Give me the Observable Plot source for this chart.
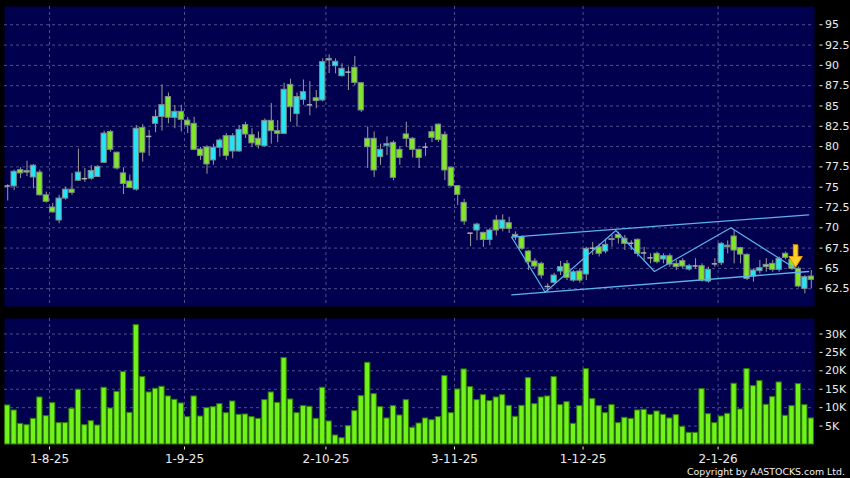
<!DOCTYPE html>
<html><head><meta charset="utf-8">
<script src="https://cdn.jsdelivr.net/npm/d3@7"></script>
<script src="https://cdn.jsdelivr.net/npm/@observablehq/plot@0.6"></script>
<style>
html,body{margin:0;padding:0;background:#000;}
#chart{position:relative;width:850px;height:478px;background:#000;overflow:hidden;font-family:"DejaVu Sans",sans-serif;}
#price{position:absolute;left:0;top:0;}
#vol{position:absolute;left:0;top:312px;}
#copy{position:absolute;left:687px;top:466px;color:#f2f2f2;font-size:9.4px;line-height:11px;white-space:nowrap;font-family:"DejaVu Sans",sans-serif;}
</style></head>
<body>
<div id="chart"><div id="price"></div><div id="vol"></div><div id="copy">Copyright by AASTOCKS.com Ltd.</div></div>
<script>
// ---- data (trading days 23 Jul 2025 .. 22 Jan 2026) ----
const opens = [75.15,75.1,77.1,77.0,76.2,76.8,74.0,72.5,70.9,73.6,
74.7,75.8,76.05,76.05,76.25,78.0,81.8,79.25,76.7,75.7,
74.7,82.3,81.25,82.8,83.65,86.1,83.54,84.28,83.2,82.8,
79.64,79.9,78.3,79.85,81.28,79.4,79.4,82.64,81.4,80.96,
80.05,83.17,81.9,81.57,87.6,84.0,85.76,85.14,85.96,85.68,
90.6,89.9,88.67,89.17,89.7,87.8,80.96,80.96,78.7,80.1,
80.46,79.6,81.5,80.96,79.6,79.93,81.77,82.7,81.45,77.4,
75.13,73.07,69.34,69.67,69.38,68.5,70.9,69.87,70.57,68.85,
68.85,67.08,65.85,65.56,62.77,63.22,64.62,65.56,63.5,64.62,
64.25,67.49,67.6,67.08,68.5,69.13,68.64,68.1,68.52,66.9,
66.3,66.8,66.1,66.5,65.56,65.9,64.86,65.3,65.27,63.38,
65.56,65.64,67.8,68.93,67.49,66.67,64.0,64.66,65.44,65.56,
64.82,66.8,66.05,64.95,62.48,64.0];
const highs = [75.3,77.1,77.4,78.2,77.8,77.1,74.4,73.0,74.0,75.0,
76.7,79.7,77.3,77.65,77.65,81.9,82.0,79.3,77.4,76.5,
82.6,82.7,82.0,84.5,87.6,86.6,85.06,85.1,83.6,83.6,
79.9,80.1,80.3,80.96,81.6,81.6,82.6,83.0,82.2,81.8,
83.4,85.3,83.2,87.8,88.3,86.6,88.2,88.0,86.9,90.8,
91.3,90.8,90.2,89.8,91.1,87.9,82.4,81.8,80.3,81.2,
80.7,80.0,83.0,81.1,79.7,80.4,82.4,82.8,81.8,77.5,
75.2,73.5,69.34,70.57,69.46,69.9,71.5,71.6,71.3,69.5,
69.0,67.2,66.2,65.76,63.1,64.4,65.85,65.97,64.74,64.95,
67.6,68.2,68.0,68.6,69.05,69.46,69.05,68.4,68.64,67.6,
66.8,67.0,66.8,66.8,65.97,66.2,65.5,66.2,65.56,65.15,
66.2,68.2,68.4,69.67,67.6,66.8,64.95,65.97,66.2,65.97,
66.4,67.0,66.2,65.15,64.12,64.74];
const lows = [73.3,74.6,76.05,76.3,74.8,73.9,73.05,71.8,70.5,73.4,
74.0,75.7,75.6,75.85,76.2,77.9,79.3,77.1,74.1,74.8,
74.5,78.1,78.8,81.7,81.9,82.8,82.2,81.8,81.6,79.5,
78.3,76.6,77.7,78.7,78.3,78.5,79.3,81.0,79.9,79.7,
79.9,80.3,80.5,81.5,83.0,82.4,85.1,83.8,84.65,85.5,
89.0,88.96,88.55,86.9,87.5,84.2,77.3,76.2,77.7,78.9,
75.8,77.7,79.9,78.6,77.3,78.8,80.5,80.5,75.8,75.0,
72.75,70.3,67.7,68.4,67.6,67.8,69.0,69.5,69.3,68.4,
67.2,64.74,64.9,63.7,62.07,63.1,64.12,63.5,63.3,63.18,
63.5,66.6,66.4,66.8,67.6,68.0,67.2,67.2,66.4,65.8,
65.56,65.56,65.56,65.15,64.74,64.95,64.66,64.9,63.3,63.18,
65.15,65.35,66.8,65.56,65.56,63.5,63.3,64.33,64.53,64.53,
64.53,66.05,64.74,62.6,61.87,62.48];
const closes = [75.15,76.9,76.7,76.8,77.65,74.0,73.2,71.9,73.6,74.7,
74.3,76.8,76.05,77.0,77.5,81.6,79.6,77.3,75.4,74.9,
82.2,79.25,81.25,83.65,85.1,83.55,84.28,83.3,82.6,79.6,
78.86,77.8,79.85,80.75,78.86,81.28,82.06,81.49,80.4,80.14,
83.17,81.9,81.57,87.0,84.85,86.1,86.7,85.14,85.6,90.4,
90.8,90.44,89.58,89.17,87.85,84.45,79.93,77.06,79.6,80.3,
76.15,78.6,80.96,79.6,78.6,79.93,81.08,80.8,77.06,75.13,
74.06,70.77,69.34,70.4,68.5,69.67,69.67,70.9,69.87,69.13,
67.41,65.77,65.23,64.12,62.77,64.12,65.15,63.84,64.53,63.5,
67.41,67.49,66.8,67.9,68.6,68.72,68.02,68.1,66.8,66.9,
66.3,65.77,66.5,65.48,65.15,65.23,65.27,65.3,63.5,64.82,
65.56,68.02,67.6,67.2,66.7,63.71,64.74,65.03,65.15,64.82,
66.18,66.3,64.95,62.77,63.92,63.59];
// volume in thousands
const volumes = [10.6,9.24,5.6,5.25,6.97,12.77,7.7,11.23,5.8,5.8,
9.7,14.86,5.25,6.34,5.16,15.4,9.78,14.3,19.66,8.6,
32.4,18.3,14.13,15.13,15.67,13.04,12.14,11.14,7.43,13.04,
7.6,9.87,10.14,10.96,8.5,11.68,8.06,8.15,7.43,6.97,
12.05,14.13,11.3,23.46,12.23,8.51,10.42,10.24,6.97,15.4,
6.25,2.45,1.72,4.98,9.06,13.13,22.19,13.68,10.14,7.07,
10.42,7.88,12.05,4.53,5.7,7.07,6.6,7.43,18.57,8.51,
14.95,20.38,15.58,12.05,13.4,11.78,12.77,13.4,10.5,7.52,
10.5,18.03,10.96,12.77,13.04,18.3,10.69,11.5,5.62,10.42,
20.47,12.32,10.42,8.51,10.69,5.8,7.25,6.97,9.24,9.42,
8.06,8.97,8.06,7.07,7.97,4.8,3.17,3.17,15.04,8.24,
5.8,7.61,8.33,16.49,9.51,20.47,15.85,17.21,10.78,12.86,
16.85,7.79,10.42,16.4,10.69,7.07];
// index of first trading day of each month and its label
const monthStarts = [7, 28, 50, 70, 90, 111];
const monthLabels = ["1-8-25", "1-9-25", "2-10-25", "3-11-25", "1-12-25", "2-1-26"];
const priceTicks = [62.5, 65, 67.5, 70, 72.5, 75, 77.5, 80, 82.5, 85, 87.5, 90, 92.5, 95];
const volTicks = [5, 10, 15, 20, 25, 30];
// drawn trend channel (candle index, price)
const channelUpper = [[78.4, 68.84], [124.6, 71.6]];
const channelLower = [[78.4, 61.75], [124.6, 64.62]];
const zigzag = [[78.4, 68.84], [83.6, 62.07], [94.6, 69.67], [100.6, 64.62], [112.5, 70.0], [122.5, 65.0]];
// signal arrow (candle index, shaft top, head base, tip)
const signal = {i: 122.56, top: 67.9, base: 66.47, tip: 65.15};

// ---- styles ----
const NAVY = "#00004e", GRID = "#4e4e8c", CYAN = "#25e5f5", GREEN = "#80e628",
      VOL = "#70f21a", VOLEDGE = "#2e7a05", WICK = "#9a9a9a", EDGE = "#7f8c8c", LINE = "#5cb2ee";

const N = opens.length;
const candles = opens.map((o, i) => ({i, o, h: highs[i], l: lows[i], c: closes[i], v: volumes[i]}));
const up = candles.filter(d => d.c > d.o), down = candles.filter(d => d.c < d.o), flat = candles.filter(d => d.c === d.o);
const HW = 0.41;
const xDomain = [-0.5, N - 0.5];
const gridX = monthStarts.map(k => k - 0.5);
const lbl = new Map(gridX.map((g, j) => [g, monthLabels[j]]));
const arrowPoly = [
  [signal.i - 0.35, signal.top], [signal.i + 0.35, signal.top], [signal.i + 0.35, signal.base],
  [signal.i + 1.05, signal.base], [signal.i, signal.tip], [signal.i - 1.05, signal.base],
  [signal.i - 0.35, signal.base], [signal.i - 0.35, signal.top]
];
const baseStyle = {background: "transparent", color: "#ececec", fontFamily: "DejaVu Sans, sans-serif", overflow: "visible"};

const price = Plot.plot({
  width: 850, height: 312,
  marginTop: 6, marginBottom: 6, marginLeft: 4, marginRight: 36,
  style: baseStyle,
  x: {domain: xDomain, axis: null},
  y: {domain: [60.31, 97.25], axis: null},
  marks: [
    Plot.frame({fill: NAVY, stroke: null}),
    Plot.ruleY(priceTicks, {stroke: GRID, strokeDasharray: "3,3", strokeWidth: 1}),
    Plot.ruleX(gridX, {stroke: GRID, strokeDasharray: "3,3", strokeWidth: 1}),
    Plot.ruleX(candles, {x: "i", y1: "l", y2: "h", stroke: WICK, strokeWidth: 1}),
    Plot.rect(up, {x1: d => d.i - HW, x2: d => d.i + HW, y1: "o", y2: "c", fill: CYAN, stroke: EDGE, strokeWidth: 1}),
    Plot.rect(down, {x1: d => d.i - HW, x2: d => d.i + HW, y1: "o", y2: "c", fill: GREEN, stroke: EDGE, strokeWidth: 1}),
    Plot.ruleY(flat, {x1: d => d.i - HW, x2: d => d.i + HW, y: "c", stroke: "#b0b0b0", strokeWidth: 1.5}),
    Plot.line(channelUpper, {x: d => d[0], y: d => d[1], stroke: LINE, strokeWidth: 1.3}),
    Plot.line(channelLower, {x: d => d[0], y: d => d[1], stroke: LINE, strokeWidth: 1.3}),
    Plot.line(zigzag, {x: d => d[0], y: d => d[1], stroke: LINE, strokeWidth: 1.2}),
    Plot.line(arrowPoly, {x: d => d[0], y: d => d[1], fill: "#ffcf2a", stroke: "#e89a00", strokeWidth: 1, curve: "linear-closed"}),
    Plot.axisY({anchor: "right", label: null, ticks: priceTicks, tickSize: 3, dx: 4.5, tickPadding: 3, fontSize: 11, tickFormat: d => String(d)})
  ]
});
document.getElementById("price").appendChild(price);

const vol = Plot.plot({
  width: 850, height: 166,
  marginTop: 6, marginBottom: 34, marginLeft: 4, marginRight: 36,
  style: baseStyle,
  x: {domain: xDomain, axis: null},
  y: {domain: [0, 34.2], axis: null},
  marks: [
    Plot.frame({fill: NAVY, stroke: null}),
    Plot.ruleY(volTicks, {stroke: GRID, strokeDasharray: "3,3", strokeWidth: 1}),
    Plot.ruleX(gridX, {stroke: GRID, strokeDasharray: "3,3", strokeWidth: 1}),
    Plot.rect(candles, {x1: d => d.i - HW, x2: d => d.i + HW, y1: 0, y2: "v", fill: VOL, stroke: VOLEDGE, strokeWidth: 1}),
    Plot.axisY({anchor: "right", label: null, ticks: volTicks, tickSize: 3, dx: 4.5, tickPadding: 3, fontSize: 11, tickFormat: d => d + "K"}),
    Plot.axisX({anchor: "bottom", label: null, ticks: gridX, tickSize: 3, dy: 2.5, tickPadding: 4, fontSize: 12, tickFormat: d => lbl.get(d)})
  ]
});
document.getElementById("vol").appendChild(vol);
</script>
</body></html>
